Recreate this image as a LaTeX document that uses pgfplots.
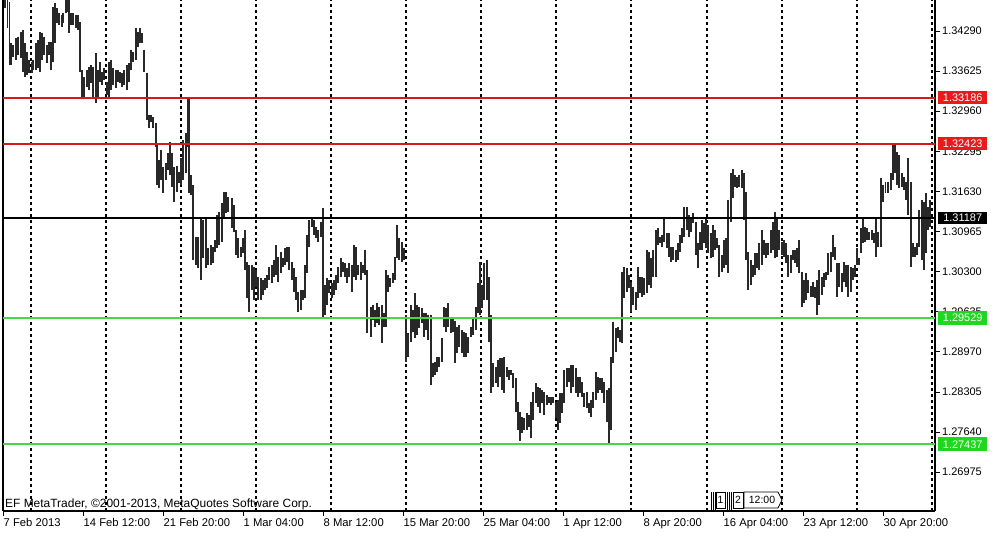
\documentclass[border=0pt]{standalone}
\usepackage{pgfplots}
\usepackage{pgfplotstable}
\pgfplotsset{compat=1.18}
\usepackage{fontspec}
\setmainfont{Liberation Sans}
\definecolor{barc}{RGB}{40,40,40}
\definecolor{mtred}{RGB}{215,25,25}
\definecolor{redbox}{RGB}{235,25,25}
\definecolor{greenl}{RGB}{70,215,70}
\definecolor{greenbox}{RGB}{30,215,30}
\pgfplotstableread{
x h l
5 1.3497 1.3467
7.5 1.3485 1.3434
9.5 1.3477 1.3373
11 1.3409 1.3373
13.3 1.3406 1.3386
15.7 1.3417 1.3381
18.3 1.3419 1.3389
20.7 1.3427 1.3384
22.7 1.3431 1.3361
25 1.3409 1.3353
27.3 1.3394 1.3356
29.3 1.3381 1.3359
31.7 1.3378 1.3359
33.3 1.3381 1.3364
35.7 1.3409 1.3364
37.7 1.3414 1.3368
40 1.3427 1.3361
42.3 1.3426 1.3381
44.3 1.3419 1.3389
46.7 1.3406 1.3376
49 1.3411 1.3389
51 1.3411 1.3364
52.7 1.3469 1.3378
55 1.3475 1.3409
57.3 1.3467 1.3442
59.3 1.3459 1.3439
61.7 1.3456 1.3436
63.3 1.3459 1.3442
65.7 1.3489 1.3459
67.3 1.3489 1.3460
69 1.3485 1.3426
71 1.3459 1.3439
73.3 1.3459 1.3439
75.7 1.3456 1.3434
78 1.3456 1.3431
80 1.3444 1.3361
82.3 1.3364 1.3320
84.3 1.3353 1.3320
86.7 1.3364 1.3336
89 1.3369 1.3331
91 1.3373 1.3343
93.3 1.3369 1.3320
95.7 1.3392 1.3309
97.7 1.3364 1.3320
100 1.3378 1.3345
102.3 1.3361 1.3339
104.3 1.3368 1.3348
106.7 1.3345 1.3323
109 1.3378 1.3320
111 1.3381 1.3331
113.3 1.3368 1.3339
115.7 1.3364 1.3334
117.7 1.3364 1.3345
120 1.3361 1.3343
122.3 1.3359 1.3336
124.3 1.3364 1.3339
126.7 1.3373 1.3331
129 1.3376 1.3345
131 1.3398 1.3364
133.3 1.3394 1.3378
135.7 1.3434 1.3381
137.7 1.3427 1.3402
140 1.3434 1.3409
142.3 1.3426 1.3409
144.3 1.3398 1.3361
146.7 1.3359 1.3281
149 1.3289 1.3269
151 1.3289 1.3278
153.3 1.3286 1.3269
155.7 1.3276 1.3236
157.3 1.3243 1.3173
159.3 1.3215 1.3168
161 1.3231 1.3182
163.3 1.3204 1.3160
165.7 1.3210 1.3182
167.7 1.3226 1.3198
170 1.3245 1.3190
172.3 1.3226 1.3170
174.3 1.3204 1.3145
176.7 1.3206 1.3162
179 1.3195 1.3177
181 1.3218 1.3173
183.3 1.3248 1.3182
185.7 1.3260 1.3193
187.7 1.3320 1.3236
189.3 1.3320 1.3160
191.3 1.3190 1.3157
193.3 1.3174 1.3049
196 1.3088 1.3041
198.3 1.3088 1.3036
201 1.3119 1.3016
203.3 1.3115 1.3053
206 1.3121 1.3036
208.3 1.3069 1.3041
210.7 1.3074 1.3041
212.7 1.3071 1.3044
215 1.3082 1.3063
217.3 1.3124 1.3069
219.3 1.3129 1.3074
221.7 1.3144 1.3079
224 1.3162 1.3119
226 1.3162 1.3127
228.3 1.3154 1.3129
231.7 1.3152 1.3102
234 1.3140 1.3096
236 1.3099 1.3057
238.3 1.3086 1.3053
240.7 1.3071 1.3054
242.7 1.3086 1.3061
245 1.3099 1.3033
247.3 1.3046 1.2986
249.3 1.3041 1.2963
251.7 1.3041 1.3000
254 1.3038 1.2983
256 1.3033 1.3005
258.3 1.3021 1.2983
260.7 1.3019 1.2983
262.7 1.3016 1.2991
265 1.3019 1.3000
267.3 1.3024 1.3003
269.3 1.3038 1.3016
271.7 1.3041 1.3011
274 1.3049 1.3021
276 1.3074 1.3024
278.3 1.3054 1.3013
280.7 1.3062 1.3028
282.7 1.3053 1.3038
285 1.3069 1.3041
287.3 1.3071 1.3046
289.3 1.3071 1.3033
291.7 1.3046 1.3016
294 1.3036 1.2996
296 1.3021 1.2983
298.3 1.2996 1.2963
300.7 1.3000 1.2966
302.7 1.3000 1.2983
305 1.3041 1.2986
307.3 1.3091 1.3028
309.3 1.3115 1.3071
311.7 1.3119 1.3104
314 1.3115 1.3091
316 1.3104 1.3086
318.3 1.3099 1.3079
320.7 1.3112 1.3087
322.7 1.3136 1.2955
325 1.3008 1.2958
327.3 1.3019 1.2975
329.3 1.3016 1.2995
331.7 1.3011 1.2986
334 1.3016 1.2991
336 1.3024 1.2999
338.3 1.3038 1.3011
340.7 1.3053 1.3021
342.7 1.3046 1.3029
345 1.3044 1.3021
347.3 1.3036 1.3011
349.3 1.3044 1.3021
351.7 1.3041 1.2996
354 1.3074 1.3021
356 1.3071 1.3016
358.3 1.3041 1.3024
360.7 1.3046 1.3016
362.7 1.3041 1.3028
365 1.3066 1.3024
367.3 1.3033 1.2928
370.7 1.2971 1.2922
372.7 1.2975 1.2950
375 1.2966 1.2938
377 1.2978 1.2945
379.3 1.2971 1.2941
381.7 1.2975 1.2912
383.7 1.2961 1.2938
386 1.3033 1.2938
388.3 1.3024 1.2996
390.3 1.3019 1.3005
392.7 1.3028 1.3011
395 1.3054 1.3016
397.3 1.3107 1.3053
399.3 1.3086 1.3049
401.7 1.3079 1.3046
404 1.3069 1.3049
406 1.2958 1.2880
408.3 1.2928 1.2888
410.7 1.2975 1.2913
412.7 1.2966 1.2930
415 1.2995 1.2920
417.3 1.2975 1.2925
419.3 1.2971 1.2936
421.7 1.2970 1.2945
424 1.2961 1.2922
426 1.2961 1.2933
428.3 1.2958 1.2917
430.7 1.2958 1.2842
432.7 1.2878 1.2855
435 1.2880 1.2858
437.3 1.2888 1.2863
439.3 1.2888 1.2872
441.7 1.2920 1.2880
444 1.2971 1.2938
446 1.2970 1.2930
448.3 1.2978 1.2938
450.7 1.2955 1.2928
452.7 1.2955 1.2930
455 1.2949 1.2878
457.3 1.2938 1.2895
459.3 1.2941 1.2905
461.7 1.2933 1.2895
464 1.2930 1.2888
466 1.2928 1.2888
468.3 1.2921 1.2895
471 1.2938 1.2922
473.3 1.2953 1.2925
475.7 1.2971 1.2933
477.7 1.3011 1.2961
480 1.3046 1.2958
482.3 1.3008 1.2970
484.3 1.3044 1.2983
486.7 1.3049 1.2983
489 1.3021 1.2913
491 1.2958 1.2829
493.3 1.2878 1.2839
495.7 1.2872 1.2845
497.7 1.2883 1.2839
500 1.2887 1.2855
502.3 1.2887 1.2833
504.3 1.2888 1.2829
506.7 1.2872 1.2855
509 1.2867 1.2850
511 1.2867 1.2858
513.3 1.2862 1.2837
515.7 1.2853 1.2797
517.7 1.2814 1.2767
520 1.2797 1.2750
522.3 1.2789 1.2762
524.3 1.2787 1.2767
526.7 1.2796 1.2767
529 1.2792 1.2772
531 1.2814 1.2754
533.3 1.2830 1.2784
535.7 1.2845 1.2812
537.7 1.2839 1.2806
540 1.2837 1.2796
542.3 1.2834 1.2812
544.3 1.2830 1.2792
546.7 1.2825 1.2809
549 1.2822 1.2812
551 1.2822 1.2809
553.3 1.2822 1.2812
555.7 1.2814 1.2787
557.7 1.2817 1.2767
560 1.2829 1.2779
562.3 1.2829 1.2796
564.3 1.2867 1.2812
566.7 1.2870 1.2839
569 1.2870 1.2847
571 1.2875 1.2829
573.3 1.2875 1.2839
575.7 1.2870 1.2829
577.7 1.2855 1.2822
580 1.2855 1.2829
582.3 1.2847 1.2822
584.3 1.2829 1.2806
586.7 1.2830 1.2804
589 1.2812 1.2796
591 1.2817 1.2789
593.3 1.2830 1.2804
595.7 1.2864 1.2817
597.7 1.2855 1.2829
600 1.2854 1.2833
602.3 1.2854 1.2829
604.3 1.2847 1.2812
606.7 1.2834 1.2781
609 1.2837 1.2746
611 1.2888 1.2767
613.3 1.2947 1.2878
615.7 1.2936 1.2897
617.7 1.2938 1.2920
620 1.2933 1.2913
622.3 1.3029 1.2912
624.3 1.3038 1.2986
626.7 1.3036 1.2996
629 1.3024 1.3003
631 1.3013 1.2963
633.3 1.3005 1.2975
635.7 1.2996 1.2966
637.7 1.3038 1.2986
640 1.3021 1.2995
642.3 1.3021 1.2988
644.3 1.3019 1.2991
646.7 1.3066 1.2995
649 1.3062 1.3008
651 1.3053 1.3003
653.3 1.3066 1.3021
655.7 1.3099 1.3021
657.7 1.3102 1.3074
660 1.3087 1.3077
662.3 1.3091 1.3071
664.3 1.3121 1.3079
666.7 1.3094 1.3069
669 1.3094 1.3054
671 1.3071 1.3046
673.3 1.3071 1.3049
675.7 1.3066 1.3046
677.7 1.3077 1.3049
680 1.3091 1.3063
682.3 1.3102 1.3077
684.3 1.3137 1.3087
686.7 1.3137 1.3099
689 1.3124 1.3087
691 1.3119 1.3096
693.3 1.3127 1.3111
695.7 1.3112 1.3058
697.7 1.3077 1.3036
700 1.3096 1.3066
701.7 1.3115 1.3066
704 1.3111 1.3077
706 1.3119 1.3069
708.3 1.3107 1.3061
710.7 1.3094 1.3053
712.7 1.3107 1.3054
715 1.3099 1.3066
717.3 1.3086 1.3069
719.3 1.3074 1.3021
721.7 1.3057 1.3029
724 1.3082 1.3036
726 1.3086 1.3041
728.3 1.3148 1.3028
730.7 1.3193 1.3112
732.7 1.3201 1.3152
735 1.3190 1.3170
737.3 1.3187 1.3168
739.3 1.3190 1.3170
741.7 1.3198 1.3168
744 1.3193 1.3115
746 1.3162 1.3049
748.3 1.3063 1.3000
750.7 1.3049 1.3008
752.7 1.3041 1.3021
755 1.3061 1.3024
757.3 1.3061 1.3036
759.3 1.3077 1.3033
761.7 1.3099 1.3041
764 1.3082 1.3057
766 1.3077 1.3053
768.3 1.3077 1.3057
770.7 1.3099 1.3061
772.7 1.3112 1.3066
775 1.3129 1.3053
777.3 1.3119 1.3054
779.3 1.3099 1.3066
781.7 1.3079 1.3057
784 1.3082 1.3054
786 1.3077 1.3044
788.3 1.3057 1.3021
790.7 1.3057 1.3028
792.7 1.3066 1.3049
795 1.3066 1.3044
797.3 1.3069 1.3038
799.3 1.3082 1.3028
801.7 1.3029 1.2971
804 1.3016 1.2978
806 1.3028 1.2983
808.3 1.3016 1.2995
810.7 1.3007 1.2988
812.7 1.3013 1.2988
815 1.3004 1.2986
817.3 1.3016 1.2958
819.3 1.3033 1.2975
821.7 1.3021 1.2991
824 1.3028 1.3005
826 1.3029 1.3016
828.3 1.3061 1.3024
830.7 1.3062 1.3029
832.7 1.3090 1.3054
835 1.3071 1.3049
837.3 1.3044 1.2988
839.3 1.3044 1.3005
841.7 1.3028 1.2996
844 1.3046 1.3013
846 1.3041 1.3005
848.3 1.3041 1.2988
850.7 1.3038 1.2996
852.7 1.3036 1.3016
855 1.3041 1.3021
857 1.3069 1.3041
859 1.3053 1.3041
860.7 1.3102 1.3061
862.7 1.3119 1.3077
865 1.3104 1.3079
867.3 1.3102 1.3082
869.3 1.3096 1.3082
871.7 1.3099 1.3082
874 1.3094 1.3077
876 1.3121 1.3054
878.3 1.3096 1.3071
880.7 1.3185 1.3071
883 1.3174 1.3145
885.5 1.3179 1.3160
888 1.3179 1.3160
890.7 1.3193 1.3165
892.7 1.3243 1.3182
895 1.3240 1.3193
897.3 1.3228 1.3173
899.3 1.3223 1.3168
901.7 1.3193 1.3170
904 1.3187 1.3165
906 1.3179 1.3148
908.3 1.3218 1.3124
910.7 1.3179 1.3038
912.7 1.3077 1.3054
915 1.3071 1.3054
917.3 1.3077 1.3057
919.3 1.3132 1.3071
921.7 1.3148 1.3049
924 1.3145 1.3033
926 1.3160 1.3061
928.3 1.3137 1.3099
930 1.3148 1.3104
}\bars
\begin{document}
\begin{tikzpicture}
\useasboundingbox (0,0) rectangle (1001bp,538bp);
\begin{axis}[
  at={(3bp,27bp)}, anchor=south west,
  scale only axis, width=932bp, height=511bp,
  xmin=3, xmax=935, ymin=1.26332, ymax=1.34804,
  axis x line*=bottom, axis y line*=box,
  axis line style={black, line width=1.2bp},
  clip mode=individual,
  tick align=outside,
  major tick length=5bp,
  tick style={black, line width=0.9bp},
  ytick pos=right,
  ytick={1.26975,1.27640,1.28305,1.28970,1.29635,1.30300,1.30965,1.31630,1.32295,1.32960,1.33625,1.34290},
  yticklabels={1.26975,1.27640,1.28305,1.28970,1.29635,1.30300,1.30965,1.31630,1.32295,1.32960,1.33625,1.34290},
  yticklabel style={anchor=west, inner sep=0pt, xshift=2bp, font=\fontsize{11}{12}\selectfont},
  xtick={3,83,163,243,323,403,483,563,643,723,803,883},
  xticklabels={7 Feb 2013,14 Feb 12:00,21 Feb 20:00,1 Mar 04:00,8 Mar 12:00,15 Mar 20:00,25 Mar 04:00,1 Apr 12:00,8 Apr 20:00,16 Apr 04:00,23 Apr 12:00,30 Apr 20:00},
  xticklabel style={anchor=north west, inner sep=0pt, xshift=0.5bp, yshift=-2bp, font=\fontsize{11.3}{12}\selectfont},
  extra x ticks={31,106,181,256,331,406,481,556,631,707,782,857,932},
  extra x tick labels={},
  extra x tick style={grid=major, major tick length=0pt},
  extra x tick style={major grid style={black, line width=1.2bp, dash pattern=on 3bp off 3bp}},
]
\addplot[draw=none, mark=none, forget plot,
  error bars/.cd, y dir=minus, y explicit, error mark=none,
  error bar style={draw=barc, line width=1.7bp, solid}]
  table[x=x, y=h, y error expr=\thisrow{h}-\thisrow{l}] {\bars};
\addplot[color=mtred, draw=mtred, solid, line width=2bp, mark=none, forget plot] coordinates {(3,1.33186) (935,1.33186)};
\addplot[color=mtred, draw=mtred, solid, line width=2bp, mark=none, forget plot] coordinates {(3,1.32423) (935,1.32423)};
\addplot[color=black, draw=black, solid, line width=1.5bp, mark=none, forget plot] coordinates {(3,1.31187) (935,1.31187)};
\addplot[color=greenl, draw=greenl, solid, line width=1.8bp, mark=none, forget plot] coordinates {(3,1.29529) (935,1.29529)};
\addplot[color=greenl, draw=greenl, solid, line width=1.8bp, mark=none, forget plot] coordinates {(3,1.27437) (935,1.27437)};
\coordinate (r1) at (axis cs:938,1.33186);
\coordinate (r2) at (axis cs:938,1.32423);
\coordinate (b1) at (axis cs:938,1.31187);
\coordinate (g1) at (axis cs:938,1.29529);
\coordinate (g2) at (axis cs:938,1.27437);
\end{axis}
\tikzset{lbl/.style={anchor=west, inner sep=0pt, minimum width=49bp, minimum height=12.5bp, text=white, font=\fontsize{11}{12}\selectfont}}
\node[lbl, fill=redbox] at (r1) {1.33186};
\node[lbl, fill=redbox] at (r2) {1.32423};
\node[lbl, fill=black] at (b1) {1.31187};
\node[lbl, fill=greenbox, minimum height=14bp] at (g1) {1.29529};
\node[lbl, fill=greenbox, minimum height=14bp] at (g2) {1.27437};
\node[anchor=base west, inner sep=0pt, font=\fontsize{12}{13}\selectfont] at (5bp,31bp) {EF MetaTrader, ©2001-2013, MetaQuotes Software Corp.};
% navigation widget
\begin{scope}[line width=0.8bp, black]
\foreach \xx in {711,713,715,727,729,731} {\draw (\xx bp,27bp) -- (\xx bp,46bp);}
\draw (716bp,30bp) rectangle (725bp,46bp);
\node[inner sep=0pt, font=\fontsize{10.5}{12}\selectfont] at (720.5bp,38bp) {1};
\draw (733bp,30bp) rectangle (743bp,46bp);
\node[inner sep=0pt, font=\fontsize{10.5}{12}\selectfont] at (738bp,38bp) {2};
\draw (744bp,30bp) -- (778bp,30bp) -- (782bp,38bp) -- (778bp,46bp) -- (744bp,46bp) -- cycle;
\node[inner sep=0pt, font=\fontsize{10.5}{12}\selectfont] at (762bp,38bp) {12:00};
\end{scope}
\end{tikzpicture}
\end{document}
